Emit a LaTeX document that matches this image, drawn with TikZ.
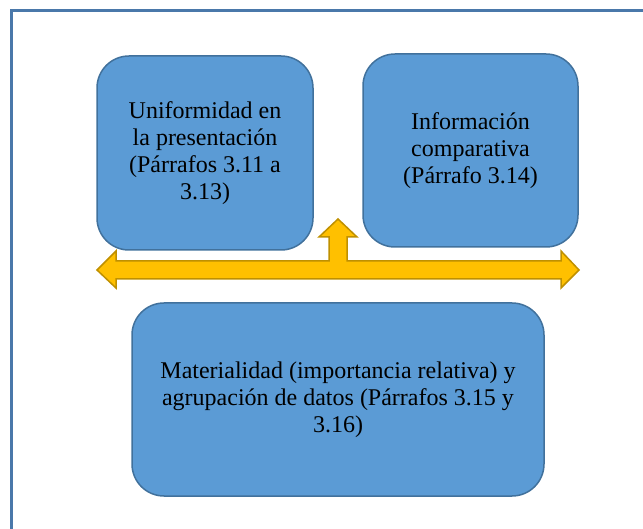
\documentclass[tikz,border=0pt]{standalone}
\usepackage{fontspec}
\setmainfont{Liberation Serif}
\usepackage{tikz}
\usepackage{xcolor}
\definecolor{boxBlue}{HTML}{5B9BD5}
\definecolor{boxEdge}{HTML}{41719C}
\definecolor{arrowGold}{HTML}{FFC000}
\definecolor{arrowEdge}{HTML}{BF9000}
\definecolor{frameBlue}{HTML}{4A78AA}

\begin{document}
\begin{tikzpicture}[
        x=1pt, y=-1pt,
        topicBox/.style={rectangle, draw=boxEdge, fill=boxBlue, rounded corners=32pt, line width=1.5pt, align=center, inner sep=0pt, font=\fontsize{24}{27}\selectfont},
        blockArrow/.style={draw=arrowEdge, fill=arrowGold, line width=1.5pt, line join=miter}
    ]
        \useasboundingbox (0,0) rectangle (643,529);

        % Frame (only top and left edges fall inside the page)
        \draw[frameBlue, line width=3pt] (11,529) |- (643,11);

        % Upper left box
        \node[topicBox, minimum width=216pt, minimum height=194pt] (uniform) at (205,153) {
            Uniformidad en\\
            la presentación\\
            (Párrafos 3.11 a\\
            3.13)
        };

        % Upper right box
        \node[topicBox, minimum width=215pt, minimum height=193pt] (compare) at (470.5,150.5) {
            Información\\
            comparativa\\
            (Párrafo 3.14)
        };

        % Lower box
        \node[topicBox, minimum width=412pt, minimum height=193pt] (material) at (338,399.5) {
            Materialidad (importancia relativa) y\\
            agrupación de datos (Párrafos 3.15 y\\
            3.16)
        };

        % Block arrow: left, up and right
        \draw[blockArrow] (97,270) -- (116,251) -- (116,261) -- (329,261) -- (329,237)
            -- (319,237) -- (338,219) -- (357,237) -- (347,237) -- (347,261)
            -- (561,261) -- (561,251) -- (579,270) -- (561,288) -- (561,279)
            -- (116,279) -- (116,288) -- cycle;
    \end{tikzpicture}
\end{document}
